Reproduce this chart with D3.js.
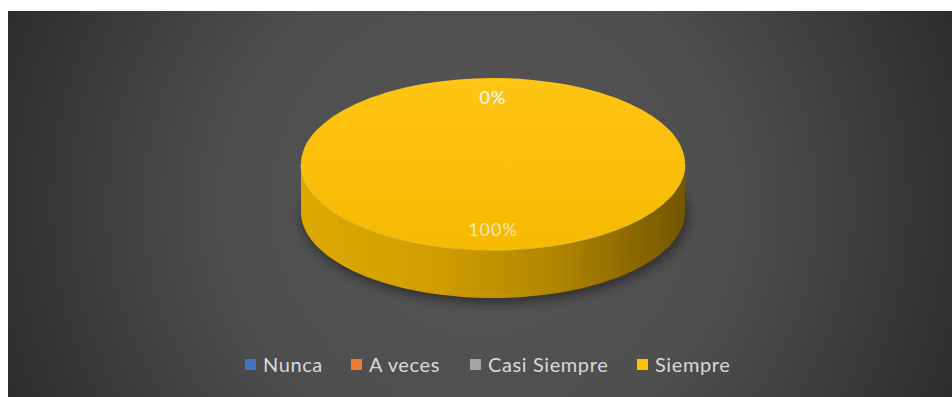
<!DOCTYPE html>
<html>
<head>
<meta charset="utf-8">
<script src="https://cdn.jsdelivr.net/npm/d3@7"></script>
<style>
  html, body { margin: 0; padding: 0; background: #ffffff; }
  svg { display: block; }
</style>
</head>
<body>
<svg id="chart" width="952" height="397"></svg>
<script>
// Survey answers and their share of responses
const categories = ["Nunca", "A veces", "Casi Siempre", "Siempre"];
const values = [0, 0, 0, 100];
const colors = ["#4472c4", "#ed7d31", "#a5a5a5", "#ffc000"];

const W = 952, H = 397;
const svg = d3.select("#chart");
const defs = svg.append("defs");

// Panel background: lighter in the middle, darker toward the edges
const bg = defs.append("radialGradient").attr("id", "bg")
  .attr("cx", "50%").attr("cy", "50%").attr("r", "60%")
  .attr("gradientTransform", "translate(0.5,0.5) scale(1,2.4) translate(-0.5,-0.5)");
bg.append("stop").attr("offset", "0%").attr("stop-color", "#565656");
bg.append("stop").attr("offset", "45%").attr("stop-color", "#4e4e4e");
bg.append("stop").attr("offset", "100%").attr("stop-color", "#262626");

const panel = { x: 8, y: 11, w: W - 8, h: H - 11 };
svg.append("rect").attr("x", panel.x).attr("y", panel.y)
  .attr("width", panel.w).attr("height", panel.h).attr("fill", "url(#bg)");

// Pie geometry (tilted disc)
const cx = 493, cy = 164, rx = 192, ry = 86, depth = 48;
const k = ry / rx;

const pie = d3.pie().sort(null).value(d => d);
const arcs = pie(values);
const pct = d3.scaleLinear().domain([0, d3.sum(values)]).range([0, 100]);

const topGrad = defs.append("linearGradient").attr("id", "topGrad")
  .attr("x1", 0).attr("y1", 0).attr("x2", 0).attr("y2", 1);
topGrad.append("stop").attr("offset", "0%").attr("stop-color", "#ffc514");
topGrad.append("stop").attr("offset", "100%").attr("stop-color", "#f5ba00");

const sideGrad = defs.append("linearGradient").attr("id", "sideGrad")
  .attr("x1", 0).attr("y1", 0).attr("x2", 1).attr("y2", 0);
sideGrad.append("stop").attr("offset", "0%").attr("stop-color", "#dcaa00");
sideGrad.append("stop").attr("offset", "35%").attr("stop-color", "#d09e00");
sideGrad.append("stop").attr("offset", "65%").attr("stop-color", "#b28700");
sideGrad.append("stop").attr("offset", "100%").attr("stop-color", "#735600");

const shadowF = defs.append("filter").attr("id", "shadow")
  .attr("x", "-20%").attr("y", "-20%").attr("width", "140%").attr("height", "140%");
shadowF.append("feGaussianBlur").attr("stdDeviation", 4);

// point on the rim at pie angle a (0 = top, clockwise)
const rim = (a, dy = 0) => [cx + rx * Math.sin(a), cy - ry * Math.cos(a) + dy];

// soft shadow under the disc
svg.append("ellipse").attr("cx", cx + 2).attr("cy", cy + depth + 4)
  .attr("rx", rx + 2).attr("ry", ry + 2)
  .attr("fill", "#1a1a1a").attr("opacity", 0.55).attr("filter", "url(#shadow)");

const g = svg.append("g");

// side walls: only the front half of the rim (angles PI/2 .. 3PI/2) is visible
arcs.forEach((d, i) => {
  if (d.endAngle - d.startAngle <= 0) return;
  const a0 = Math.max(d.startAngle, Math.PI / 2);
  const a1 = Math.min(d.endAngle, 3 * Math.PI / 2);
  if (a1 <= a0) return;
  const n = 80;
  const topPts = d3.range(n + 1).map(j => rim(a0 + (a1 - a0) * j / n));
  const botPts = topPts.map(p => [p[0], p[1] + depth]).reverse();
  g.append("path")
    .attr("d", d3.line()(topPts.concat(botPts)) + "Z")
    .attr("fill", i === 3 ? "url(#sideGrad)" : d3.color(colors[i]).darker(0.8));
});

// top faces
const arc = d3.arc().innerRadius(0).outerRadius(rx);
g.append("g").attr("transform", `translate(${cx},${cy}) scale(1,${k})`)
  .selectAll("path").data(arcs).join("path")
  .attr("d", arc)
  .attr("fill", (d, i) => i === 3 ? "url(#topGrad)" : colors[i]);

// subtle highlight along the front edge of the top face
const edgePts = d3.range(81).map(j => rim(Math.PI / 2 + Math.PI * j / 80));
g.append("path").attr("d", d3.line()(edgePts))
  .attr("fill", "none").attr("stroke", "#ffd24a").attr("stroke-width", 1).attr("opacity", 0.7);

// percentage labels at each slice's middle angle
const labelR = 0.77;
svg.append("g").selectAll("text").data(arcs).join("text")
  .attr("x", d => cx + rx * labelR * Math.sin((d.startAngle + d.endAngle) / 2))
  .attr("y", d => cy - ry * labelR * Math.cos((d.startAngle + d.endAngle) / 2) + 6)
  .attr("text-anchor", "middle")
  .attr("font-family", "Lato, 'Open Sans', sans-serif")
  .attr("font-size", 18)
  .attr("letter-spacing", 1)
  .attr("fill", "#f4f0e0")
  .attr("fill-opacity", 0.82)
  .text(d => Math.round(pct(d.value)) + "%");

// legend
const legendX = [245, 351, 470, 637];
const leg = svg.append("g").attr("font-family", "Lato, 'Open Sans', sans-serif")
  .attr("font-size", 20).attr("letter-spacing", 0.6).attr("fill", "#d9d9d9");
categories.forEach((c, i) => {
  leg.append("rect").attr("x", legendX[i]).attr("y", 359)
    .attr("width", 11).attr("height", 11).attr("fill", colors[i]);
  leg.append("text").attr("x", legendX[i] + 18).attr("y", 372).text(c);
});
</script>
</body>
</html>
